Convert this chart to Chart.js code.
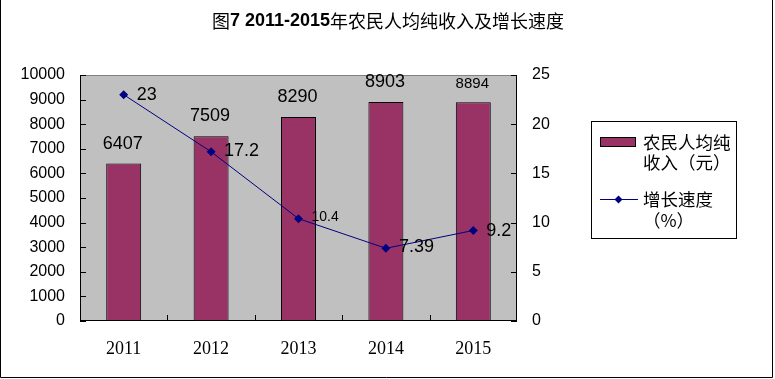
<!DOCTYPE html>
<html><head><meta charset="utf-8">
<script src="https://cdn.jsdelivr.net/npm/chart.js@4"></script>
<style>html,body{margin:0;padding:0;background:#fff}canvas{display:block}</style>
</head><body>
<canvas id="c" width="775" height="379"></canvas>
<script>
// ---- data ----
const categories = ['2011', '2012', '2013', '2014', '2015'];
const incomeValues = [6407, 7509, 8290, 8903, 8894];
const growthValues = [23, 17.2, 10.4, 7.39, 9.2];
const incomeLabels = ['6407', '7509', '8290', '8903', '8894'];
const growthLabels = ['23', '17.2', '10.4', '7.39', '9.2'];
const leftTicks = [0, 1000, 2000, 3000, 4000, 5000, 6000, 7000, 8000, 9000, 10000];
const rightTicks = [0, 5, 10, 15, 20, 25];
const titleParts = ['图', '7 2011-2015', '年农民人均纯收入及增长速度'];
const legendIncome = ['农民人均纯', '收入（元）'];
const legendGrowth = ['增长速度', '（%）'];

// ---- styles ----
const barColor = '#993366';
const lineColor = '#000080';
const plotBg = '#C0C0C0';
const CJK = "'Noto Sans CJK SC'";
const SANS = "'Liberation Sans', Arial";
const barLabelSize = [18, 18, 18, 18, 15];
const barLabelGap = [19, 20, 20, 20, 18];
const lineLabelSize = [18, 18, 14, 18, 18];
const lineLabelDy = [0, -1, -1.5, -1, 0.5];

const deco = {
  id: 'deco',
  beforeDraw(chart) {
    const {ctx, chartArea: a} = chart;
    ctx.save();
    ctx.fillStyle = '#fff';
    ctx.fillRect(0, 0, chart.width, chart.height);
    ctx.fillStyle = plotBg;
    ctx.fillRect(a.left, a.top, a.right - a.left, a.bottom - a.top);
    ctx.restore();
  },
  afterDatasetsDraw(chart) {
    const {ctx, chartArea: a, scales} = chart;
    ctx.save();
    ctx.lineWidth = 1;
    ctx.strokeStyle = '#808080';
    ctx.beginPath();
    ctx.moveTo(a.left, a.top + 0.5); ctx.lineTo(a.right, a.top + 0.5);
    ctx.stroke();
    ctx.strokeStyle = '#000';
    ctx.beginPath();
    ctx.moveTo(a.left + 0.5, a.top); ctx.lineTo(a.left + 0.5, a.bottom);
    ctx.moveTo(a.right - 0.5, a.top); ctx.lineTo(a.right - 0.5, a.bottom);
    ctx.moveTo(a.left, a.bottom - 0.5); ctx.lineTo(a.right, a.bottom - 0.5);
    scales.y.ticks.forEach(t => {
      const y = Math.round(scales.y.getPixelForValue(t.value)) + 0.5;
      ctx.moveTo(a.left, y); ctx.lineTo(a.left + 6, y);
    });
    scales.y1.ticks.forEach(t => {
      const y = Math.round(scales.y1.getPixelForValue(t.value)) + 0.5;
      ctx.moveTo(a.right, y); ctx.lineTo(a.right - 6, y);
    });
    for (let i = 1; i < categories.length; i++) {
      const x = Math.round((scales.x.getPixelForValue(i - 1) + scales.x.getPixelForValue(i)) / 2) + 0.5;
      ctx.moveTo(x, a.bottom); ctx.lineTo(x, a.bottom - 6);
    }
    ctx.stroke();

    ctx.fillStyle = '#000';
    ctx.textBaseline = 'middle';
    ctx.textAlign = 'center';
    chart.getDatasetMeta(0).data.forEach((el, i) => {
      ctx.font = barLabelSize[i] + 'px ' + SANS;
      ctx.fillText(incomeLabels[i], el.x - 1, el.y - barLabelGap[i]);
    });
    ctx.textAlign = 'left';
    chart.getDatasetMeta(1).data.forEach((el, i) => {
      ctx.font = lineLabelSize[i] + 'px ' + SANS;
      ctx.fillText(growthLabels[i], el.x + 13, el.y + lineLabelDy[i]);
    });
    ctx.restore();
  },
  afterDraw(chart) {
    const {ctx} = chart;
    ctx.save();
    ctx.fillStyle = '#000';
    ctx.textBaseline = 'middle';
    ctx.textAlign = 'left';
    const fonts = ['18px ' + CJK, 'bold 18px ' + SANS, '18px ' + CJK];
    let total = 0;
    const widths = titleParts.map((p, i) => { ctx.font = fonts[i]; const w = ctx.measureText(p).width; total += w; return w; });
    let x = 388 - total / 2;
    titleParts.forEach((p, i) => { ctx.font = fonts[i]; ctx.fillText(p, x, 21); x += widths[i]; });

    ctx.strokeStyle = '#000';
    ctx.lineWidth = 1;
    ctx.strokeRect(591.5, 121.5, 145, 117);
    ctx.fillStyle = barColor;
    ctx.fillRect(600.5, 137.5, 35, 9);
    ctx.strokeRect(600.5, 137.5, 35, 9);
    ctx.fillStyle = '#000';
    ctx.font = '17.5px ' + CJK;
    ctx.fillText(legendIncome[0], 643, 142);
    ctx.fillText(legendIncome[1], 643, 162);
    ctx.strokeStyle = lineColor;
    ctx.beginPath();
    ctx.moveTo(600, 199.5); ctx.lineTo(638, 199.5);
    ctx.stroke();
    ctx.fillStyle = lineColor;
    ctx.beginPath();
    ctx.moveTo(618.5, 195.5); ctx.lineTo(622.5, 199.5); ctx.lineTo(618.5, 203.5); ctx.lineTo(614.5, 199.5);
    ctx.closePath(); ctx.fill();
    ctx.fillStyle = '#000';
    ctx.fillText(legendGrowth[0], 643, 199);
    ctx.fillText(legendGrowth[1], 643, 220);

    ctx.strokeStyle = '#000';
    ctx.beginPath();
    ctx.moveTo(0.5, 0); ctx.lineTo(0.5, 377.5); ctx.lineTo(772.5, 377.5); ctx.lineTo(772.5, 0);
    ctx.stroke();
    ctx.restore();
  }
};

new Chart(document.getElementById('c'), {
  data: {
    labels: categories,
    datasets: [
      {
        type: 'bar', label: '农民人均纯收入（元）', data: incomeValues, yAxisID: 'y',
        backgroundColor: barColor, borderColor: '#000', borderWidth: 1,
        barPercentage: 0.4, categoryPercentage: 1, order: 2
      },
      {
        type: 'line', label: '增长速度（%）', data: growthValues, yAxisID: 'y1',
        borderColor: lineColor, borderWidth: 1, backgroundColor: lineColor,
        pointStyle: 'rectRot', pointRadius: 4.5, pointBorderWidth: 0, tension: 0, order: 1
      }
    ]
  },
  options: {
    responsive: false,
    animation: false,
    devicePixelRatio: 1,
    layout: {padding: {left: 0, right: 218, top: 75, bottom: 0}},
    plugins: {legend: {display: false}, title: {display: false}, tooltip: {enabled: false}},
    scales: {
      x: {
        type: 'category', position: 'bottom', offset: true,
        grid: {display: false, drawTicks: false}, border: {display: false},
        ticks: {color: '#000', font: {family: "'Liberation Serif', 'Times New Roman'", size: 18}, padding: 17, maxRotation: 0},
        afterFit(s) { s.height = 58; }
      },
      y: {
        type: 'linear', position: 'left', min: 0, max: 10000,
        grid: {display: false, drawTicks: false}, border: {display: false},
        ticks: {color: '#000', font: {family: SANS, size: 16}, padding: 15, callback: v => String(v)},
        afterBuildTicks(s) { s.ticks = leftTicks.map(v => ({value: v})); },
        afterFit(s) { s.width = 80; }
      },
      y1: {
        type: 'linear', position: 'right', min: 0, max: 25,
        grid: {display: false, drawTicks: false}, border: {display: false},
        ticks: {color: '#000', font: {family: SANS, size: 16}, padding: 15, callback: v => String(v)},
        afterBuildTicks(s) { s.ticks = rightTicks.map(v => ({value: v})); },
        afterFit(s) { s.width = 40; }
      }
    }
  },
  plugins: [deco]
});
</script>
</body></html>
